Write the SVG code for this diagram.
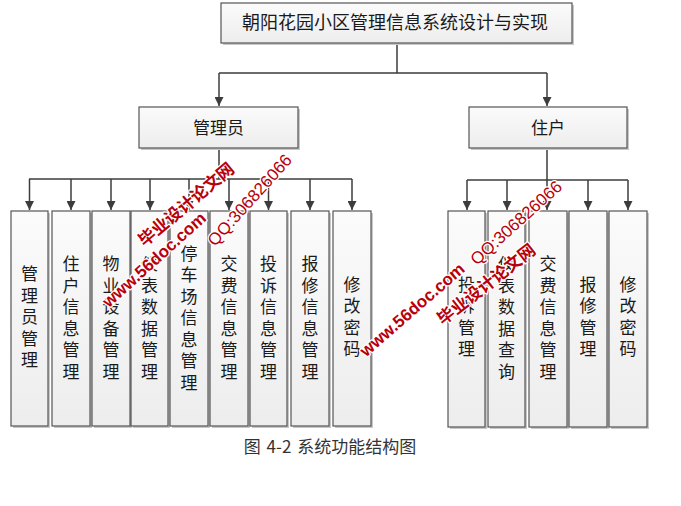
<svg xmlns="http://www.w3.org/2000/svg" width="681" height="506" viewBox="0 0 681 506">
<defs>
<linearGradient id="g" x1="0" y1="0" x2="0" y2="1">
<stop offset="0" stop-color="#fbfbfb"/>
<stop offset="1" stop-color="#ededed"/>
</linearGradient>
<marker id="ah" viewBox="0 0 10 10" refX="10" refY="5" markerWidth="10" markerHeight="9" markerUnits="userSpaceOnUse" orient="auto">
<path d="M0,0 L10,5 L0,10 z" fill="#3c3c3c"/>
</marker>
<style>
.box{fill:url(#g);stroke:#555;stroke-width:1.2}
.sh{fill:#c8c8c8}
.t{font-family:"Noto Sans CJK SC","Liberation Sans",sans-serif;font-size:17px;fill:#1a1a1a;text-anchor:middle}
.v{writing-mode:vertical-rl;letter-spacing:4.5px}
.cap{font-family:"Noto Sans CJK SC","Liberation Serif",serif;font-size:17px;fill:#333;text-anchor:middle;word-spacing:2px}
.ln{fill:none;stroke:#3c3c3c;stroke-width:1.5}
.ar{marker-end:url(#ah)}
.wm{font-family:"Liberation Sans","Noto Sans CJK SC",sans-serif;font-weight:bold;font-size:17px;fill:#b8000a;stroke:#fff;stroke-width:2.5;paint-order:stroke;text-anchor:middle;stroke-linejoin:round}
</style>
</defs>
<rect width="681" height="506" fill="#fff"/>

<g id="connectors">
<path class="ln" d="M397 43 V73 M219 73 H547"/>
<path class="ln ar" d="M219 73 V106"/>
<path class="ln ar" d="M547 73 V106"/>
<path class="ln" d="M219 148 V179 M29 179 H352"/>
<path class="ln ar" d="M29.5 179 V210"/>
<path class="ln ar" d="M71 179 V210"/>
<path class="ln ar" d="M111 179 V210"/>
<path class="ln ar" d="M150 179 V210"/>
<path class="ln ar" d="M189 179 V210"/>
<path class="ln ar" d="M229 179 V210"/>
<path class="ln ar" d="M268.5 179 V210"/>
<path class="ln ar" d="M310 179 V210"/>
<path class="ln ar" d="M352 179 V210"/>
<path class="ln" d="M547 149 V180 M467 180 H628"/>
<path class="ln ar" d="M467 180 V210"/>
<path class="ln ar" d="M507 180 V210"/>
<path class="ln ar" d="M547 180 V210"/>
<path class="ln ar" d="M588 180 V210"/>
<path class="ln ar" d="M628 180 V210"/>
</g>

<g id="root">
<rect class="sh" x="223" y="5" width="351" height="40"/>
<rect class="box" x="221" y="3" width="351" height="40"/>
<text class="t" x="395" y="29" style="font-size:18px">朝阳花园小区管理信息系统设计与实现</text>
</g>

<g id="admin">
<rect class="sh" x="141" y="109" width="159" height="41"/>
<rect class="box" x="139" y="107" width="159" height="41"/>
<text class="t" x="218.5" y="134">管理员</text>
</g>

<g id="resident">
<rect class="sh" x="471" y="109" width="158" height="41"/>
<rect class="box" x="469" y="107" width="158" height="41"/>
<text class="t" x="548" y="134">住户</text>
</g>

<g id="a1">
<rect class="sh" x="13" y="213" width="37" height="215"/>
<rect class="box" x="11" y="211" width="37" height="215"/>
<text class="t v" x="29.5" y="319">管理员管理</text>
</g>
<g id="a2">
<rect class="sh" x="54" y="213" width="38" height="215"/>
<rect class="box" x="52" y="211" width="38" height="215"/>
<text class="t v" x="71" y="320">住户信息管理</text>
</g>
<g id="a3">
<rect class="sh" x="94" y="213" width="38" height="215"/>
<rect class="box" x="92" y="211" width="38" height="215"/>
<text class="t v" x="111" y="320">物业设备管理</text>
</g>
<g id="a4">
<rect class="sh" x="133" y="213" width="37" height="215"/>
<rect class="box" x="131" y="211" width="37" height="215"/>
<text class="t v" x="149.5" y="320">仪表数据管理</text>
</g>
<g id="a5">
<rect class="sh" x="172" y="213" width="38" height="215"/>
<rect class="box" x="170" y="211" width="38" height="215"/>
<text class="t v" x="189" y="320">停车场信息管理</text>
</g>
<g id="a6">
<rect class="sh" x="212" y="213" width="38" height="215"/>
<rect class="box" x="210" y="211" width="38" height="215"/>
<text class="t v" x="229" y="320">交费信息管理</text>
</g>
<g id="a7">
<rect class="sh" x="252" y="213" width="37" height="215"/>
<rect class="box" x="250" y="211" width="37" height="215"/>
<text class="t v" x="268.5" y="320">投诉信息管理</text>
</g>
<g id="a8">
<rect class="sh" x="293" y="213" width="38" height="215"/>
<rect class="box" x="291" y="211" width="38" height="215"/>
<text class="t v" x="310" y="320">报修信息管理</text>
</g>
<g id="a9">
<rect class="sh" x="335" y="213" width="38" height="215"/>
<rect class="box" x="333" y="211" width="38" height="215"/>
<text class="t v" x="352" y="319">修改密码</text>
</g>

<g id="r1">
<rect class="sh" x="450" y="213" width="37" height="216"/>
<rect class="box" x="448" y="211" width="37" height="216"/>
<text class="t v" x="466.5" y="319">投诉管理</text>
</g>
<g id="r2">
<rect class="sh" x="490" y="213" width="37" height="216"/>
<rect class="box" x="488" y="211" width="37" height="216"/>
<text class="t v" x="506.5" y="320">仪表数据查询</text>
</g>
<g id="r3">
<rect class="sh" x="531" y="213" width="38" height="216"/>
<rect class="box" x="529" y="211" width="38" height="216"/>
<text class="t v" x="548" y="320">交费信息管理</text>
</g>
<g id="r4">
<rect class="sh" x="571" y="213" width="38" height="216"/>
<rect class="box" x="569" y="211" width="38" height="216"/>
<text class="t v" x="588" y="319">报修管理</text>
</g>
<g id="r5">
<rect class="sh" x="611" y="213" width="38" height="216"/>
<rect class="box" x="609" y="211" width="38" height="216"/>
<text class="t v" x="628" y="319">修改密码</text>
</g>

<g id="caption">
<text class="cap" x="330" y="453">图 4-2 系统功能结构图</text>
</g>

<g id="watermarks">
<text class="wm" transform="translate(190,209) rotate(-40)">毕业设计论文网</text>
<text class="wm" transform="translate(158,264) rotate(-42)">www.56doc.com</text>
<text class="wm" transform="translate(254,204) rotate(-48)" style="font-weight:normal">QQ:306826066</text>
<text class="wm" transform="translate(416,314) rotate(-41)">www.56doc.com</text>
<text class="wm" transform="translate(520,227) rotate(-42)" style="font-weight:normal">QQ:306826066</text>
<text class="wm" transform="translate(490,289) rotate(-38)">毕业设计论文网</text>
</g>
</svg>
